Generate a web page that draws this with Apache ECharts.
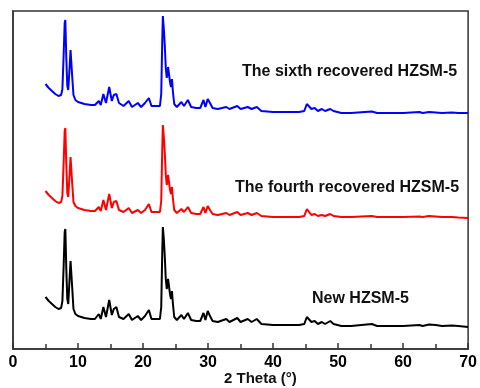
<!DOCTYPE html>
<html>
<head>
<meta charset="utf-8">
<script src="https://cdn.jsdelivr.net/npm/echarts@6/dist/echarts.min.js"></script>
<style>
  html, body { margin: 0; padding: 0; background: #fff; }
  #chart { width: 480px; height: 388px; }
</style>
</head>
<body>
<div id="chart"></div>
<script>
// 2 theta positions (deg)
const theta = [
  5.0, 5.5, 6.0, 6.5, 7.0, 7.4, 7.6, 7.8, 7.95, 8.05, 8.2, 8.35, 8.5, 8.7, 8.85, 8.95, 9.1, 9.3, 9.6, 10.0, 11.0, 12.0, 12.6,
  13.2, 13.5, 13.9, 14.3, 14.8, 15.2, 15.5, 15.9, 16.3, 17.0, 17.8, 18.3, 19.2, 19.7, 20.3, 20.5, 20.9, 21.3, 22.0, 22.3, 22.6,
  22.8, 22.95, 23.05, 23.2, 23.35, 23.5, 23.65, 23.85, 24.0, 24.15, 24.3, 24.45, 24.6, 24.8,
  25.2, 25.9, 26.3, 26.9, 27.4, 28.2, 28.8, 29.3, 29.6, 29.95, 30.3, 30.7, 31.5, 32.8, 33.3, 34.5, 35.0, 36.1, 36.7, 37.5,
  38.2, 40.0, 42.0, 44.0, 44.8, 45.2, 45.5, 45.9, 46.4, 46.9, 47.5, 48.0, 48.8, 49.3, 50.5, 52.0, 55.2, 56.0, 58.0, 60.0,
  62.5, 63.0, 64.0, 65.0, 66.0, 67.5, 68.5, 70.0
];

// intensities (a.u.), one list per sample
const newHZSM = [
  52, 48, 45, 42, 40, 41, 48, 85, 117, 120, 80, 50, 45, 70, 88, 86, 62, 40, 35, 33, 31, 30, 30,
  35, 30, 42, 32, 49, 34, 40, 42, 32, 30, 35, 29, 33, 29, 33, 31, 39, 30, 30, 32, 30,
  42, 95, 122, 110, 92, 70, 60, 70, 72, 55, 50, 58, 45, 32,
  29, 34, 30, 36, 29, 28, 28, 36, 29, 38, 33, 28, 27, 30, 27, 31, 27, 30, 27, 30,
  25, 24, 24, 24, 25, 32, 33, 27, 28, 25, 27, 25, 28, 25, 23, 23, 25, 23, 23, 23,
  24, 23, 24.5, 24, 23, 23.5, 23, 22
];
const fourthHZSM = [
  52, 48, 45, 42, 40, 41, 47, 82, 112, 115, 78, 50, 46, 68, 86, 84, 60, 41, 37, 35, 33, 32, 32,
  36, 32, 43, 33, 49, 35, 41, 42, 33, 31, 35, 30, 33, 30, 33, 32, 39, 31, 31, 33, 31,
  42, 92, 118, 106, 90, 68, 58, 68, 70, 53, 49, 56, 44, 33,
  30, 34, 31, 36, 30, 29, 29, 36, 30, 37, 33, 29, 28, 30, 28, 31, 28, 30, 28, 30,
  27, 26, 26, 26, 27, 34, 34, 28, 29, 27, 28, 27, 29, 27, 26, 26, 27, 26, 26, 26,
  26.5, 26, 27, 26.5, 26, 26, 25.5, 25
];
const sixthHZSM = [
  52, 48, 45, 42, 40, 41, 47, 83, 113, 116, 78, 50, 46, 68, 86, 84, 60, 41, 36, 34, 32, 31, 31,
  35, 31, 42, 33, 49, 35, 41, 42, 33, 30, 35, 29, 33, 29, 33, 31, 38, 30, 30, 32, 30,
  42, 93, 120, 107, 90, 68, 58, 69, 71, 54, 49, 57, 44, 32,
  29, 34, 30, 36, 29, 28, 28, 36, 29, 37, 33, 28, 27, 29, 27, 30, 27, 29, 27, 29,
  25, 24, 24, 24, 25, 32, 33, 27, 28, 25, 27, 25, 27, 25, 23, 23, 24.5, 23, 23, 23,
  24, 23, 24, 23.5, 23, 23.5, 23, 23
];

const names = ['New HZSM-5', 'The fourth recovered HZSM-5', 'The sixth recovered HZSM-5'];
const patterns = [newHZSM, fourthHZSM, sixthHZSM];
const offsets = [0, 106, 213];
const colors = ['#000000', '#ff0000', '#0000ff'];
const xTicks = [0, 10, 20, 30, 40, 50, 60, 70];

const chart = echarts.init(document.getElementById('chart'));

const font = '"Liberation Sans", Arial, sans-serif';

chart.setOption({
  animation: false,
  backgroundColor: '#fff',
  grid: {
    left: 13, right: 8, top: 11, bottom: 39,
    show: true,
    borderColor: '#333',
    borderWidth: 1.5
  },
  xAxis: {
    type: 'value',
    min: xTicks[0],
    max: xTicks[xTicks.length - 1],
    interval: 10,
    axisLine: { lineStyle: { color: '#333', width: 1.5 } },
    axisTick: { inside: true, length: 6, lineStyle: { color: '#333', width: 1.5 } },
    minorTick: { show: true, splitNumber: 2, length: 5, lineStyle: { color: '#333', width: 1.5 } },
    splitLine: { show: false },
    axisLabel: {
      margin: 6,
      color: '#000',
      fontSize: 16,
      fontWeight: 'bold',
      fontFamily: font
    }
  },
  yAxis: {
    type: 'value',
    min: 0,
    max: 338,
    axisLine: { show: true, lineStyle: { color: '#333', width: 1.5 } },
    axisTick: { show: false },
    axisLabel: { show: false },
    splitLine: { show: false }
  },
  series: patterns.map((p, k) => ({
    name: names[k],
    type: 'line',
    showSymbol: false,
    symbol: 'none',
    lineStyle: { color: colors[k], width: 2 },
    data: theta.map((t, i) => [t, p[i] + offsets[k]])
  })),
  graphic: [
    { type: 'text', left: 242, top: 64, style: { text: names[2], font: 'bold 16px ' + font, fill: '#111' } },
    { type: 'text', left: 235, top: 180, style: { text: names[1], font: 'bold 16px ' + font, fill: '#111' } },
    { type: 'text', left: 312, top: 291, style: { text: names[0], font: 'bold 16px ' + font, fill: '#111' } },
    { type: 'text', left: 224, top: 371, style: { text: '2 Theta (°)', font: 'bold 15px ' + font, fill: '#111' } }
  ]
});
</script>
</body>
</html>
